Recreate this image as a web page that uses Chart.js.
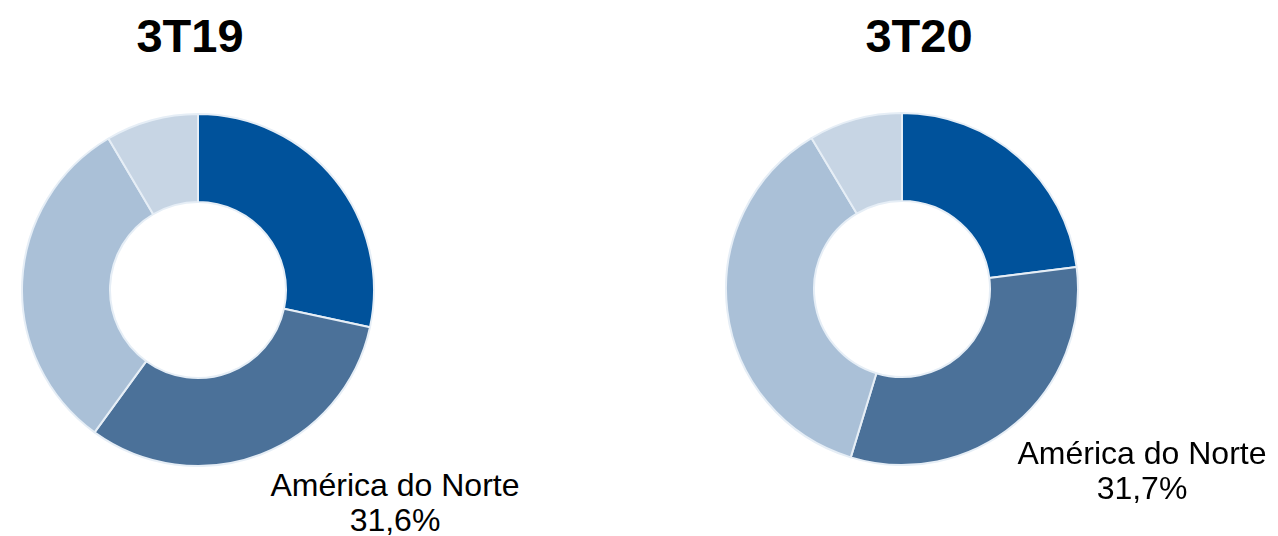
<!DOCTYPE html>
<html>
<head>
<meta charset="utf-8">
<script src="https://cdn.jsdelivr.net/npm/chart.js@4"></script>
<style>
  html, body { margin: 0; padding: 0; background: #fff; }
  body { width: 1278px; height: 536px; position: relative; overflow: hidden; font-family: "Liberation Sans", Arial, sans-serif; }
  .box { position: absolute; width: 354px; height: 354px; }
  .title { position: absolute; width: 300px; text-align: center; font-weight: bold; font-size: 47px; line-height: 47px; color: #000; }
  .lbl { position: absolute; width: 320px; text-align: center; font-size: 32px; line-height: 35px; color: #000; }
</style>
</head>
<body>
<div class="title" style="left:40px; top:12px;" id="t0"></div>
<div class="title" style="left:769px; top:12px;" id="t1"></div>
<div class="box" style="left:21px; top:113px;"><canvas id="c0"></canvas></div>
<div class="box" style="left:725px; top:112px;"><canvas id="c1"></canvas></div>
<div class="lbl" style="left:235px; top:468px;" id="l0"></div>
<div class="lbl" style="left:982px; top:436px;" id="l1"></div>
<script>
const periods = ["3T19", "3T20"];
const regions = ["Brasil", "América do Norte", "Europa", "Outros"];
const share3T19 = [28.4, 31.6, 31.5, 8.5];
const share3T20 = [23.0, 31.7, 36.7, 8.6];
const colors = ["#00529B", "#4B7199", "#AAC0D7", "#C7D5E4"];
const highlight = 1; // América do Norte gets the callout

function fmtPct(v) { return v.toFixed(1).replace(".", ",") + "%"; }

function drawDonut(id, values) {
  new Chart(document.getElementById(id), {
    type: "doughnut",
    data: {
      labels: regions,
      datasets: [{ data: values, backgroundColor: colors, borderColor: "#E6EEF6", borderWidth: 2 }],
    },
    options: {
      responsive: true, maintainAspectRatio: false, animation: false,
      cutout: "50%",
      layout: { padding: 0 },
      plugins: { legend: { display: false }, tooltip: { enabled: false } },
    },
  });
}

[share3T19, share3T20].forEach((vals, i) => {
  document.getElementById("t" + i).textContent = periods[i];
  document.getElementById("l" + i).innerHTML = regions[highlight] + "<br>" + fmtPct(vals[highlight]);
  drawDonut("c" + i, vals);
});
</script>
</body>
</html>
